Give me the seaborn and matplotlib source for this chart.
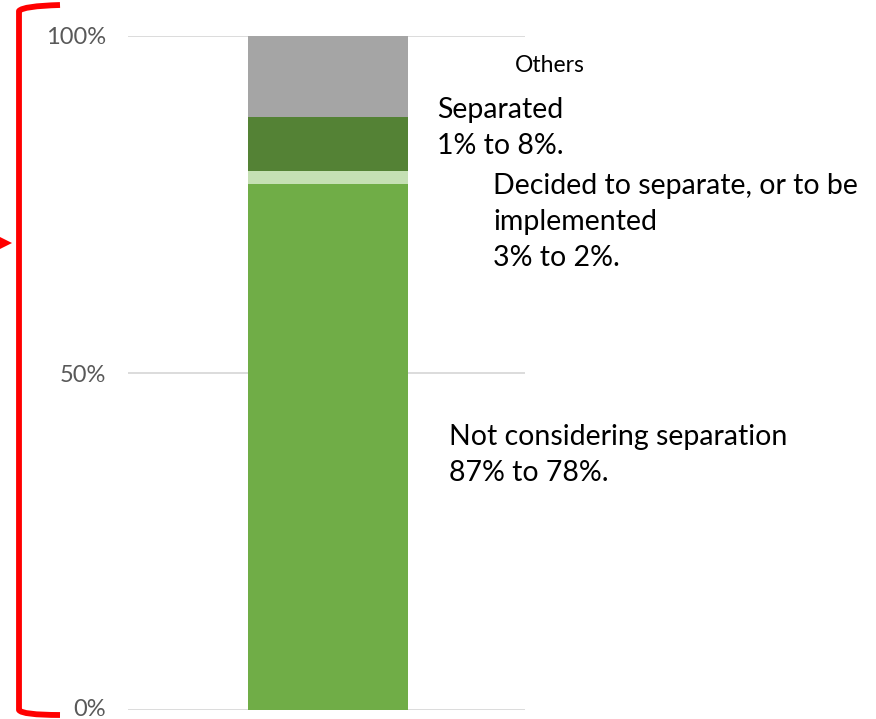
import matplotlib
matplotlib.use("Agg")
import matplotlib.pyplot as plt
import matplotlib.transforms as mtransforms
from matplotlib.patches import Polygon
from matplotlib.path import Path
from matplotlib.patches import PathPatch
import seaborn as sns
import pandas as pd
import numpy as np

# Shares of the single stacked column (bottom to top), in percent
segments = ["Not considering separation", "Decided to separate, or to be implemented",
            "Separated", "Others"]
shares = [78, 2, 8, 12]
colors = ["#70AD47", "#C5E0B4", "#548235", "#A5A5A5"]

tick_values = [0, 50, 100]
tick_labels = ["0%", "50%", "100%"]

# (lines, left x px, first-line centre y px, font size)
annotations = [
    (["Not considering separation", "87% to 78%."], 449, 437, 20.5),
    (["Decided to separate, or to be", "implemented", "3% to 2%."], 493, 186, 20.5),
    (["Separated", "1% to 8%."], 437, 110, 20.5),
    (["Others"], 515, 65, 16.5),
]
line_step = 36

sns.set_theme(style="white")
plt.rcParams["font.family"] = ["Lato", "DejaVu Sans"]

W, H = 876, 719
fig = plt.figure(figsize=(W / 100, H / 100), dpi=100)
ax = fig.add_axes([128 / W, (H - 710) / H, 397 / W, 674 / H])

# Stack by overdrawing cumulative totals from the tallest down
cum = np.cumsum(shares)
for total, col in zip(cum[::-1], colors[::-1]):
    df = pd.DataFrame({"cat": ["all"], "val": [total]})
    sns.barplot(data=df, x="cat", y="val", color=col, width=0.8,
                saturation=1, ax=ax, linewidth=0, zorder=2)

ax.set_xlim(-1.0, 0.985)
ax.set_ylim(0, 100)
ax.set_yticks(tick_values)
ax.set_yticklabels(tick_labels)
ax.set_xticks([])
ax.set_xlabel("")
ax.set_ylabel("")
ax.tick_params(axis="y", length=0, pad=16, labelsize=17, labelcolor="#595959")
ax.yaxis.grid(True, color="#D9D9D9", linewidth=1.3, zorder=0)
ax.set_axisbelow(True)
for s in ax.spines.values():
    s.set_visible(False)

# Keep the bottom tick label inside the canvas
lift = mtransforms.ScaledTranslation(0, 3 / 100, fig.dpi_scale_trans)
for lab in ax.get_yticklabels():
    if lab.get_text() == "0%":
        lab.set_transform(lab.get_transform() + lift)

# Annotation text beside the column
for lines, x, y, size in annotations:
    for i, line in enumerate(lines):
        fig.text(x / W, 1 - (y + i * line_step) / H, line, fontsize=size,
                 color="black", ha="left", va="center")

# Red bracket along the left edge
tr = fig.dpi_scale_trans
def px(x, y):
    return (x / 100, (H - y) / 100)

verts = [px(60, 5), px(23, 6), px(19, 11), px(19, 710), px(22, 715), px(60, 715)]
codes = [Path.MOVETO, Path.CURVE3, Path.CURVE3, Path.LINETO, Path.CURVE3, Path.CURVE3]
fig.patches.append(PathPatch(Path(verts, codes), transform=tr, fill=False,
                             edgecolor="#FF0000", linewidth=4.2, capstyle="butt",
                             joinstyle="round"))
fig.patches.append(Polygon([px(-2, 236), px(12, 243), px(-2, 250)], closed=True,
                           transform=tr, facecolor="#FF0000", edgecolor="none"))

fig.savefig("out.png", dpi=100)
